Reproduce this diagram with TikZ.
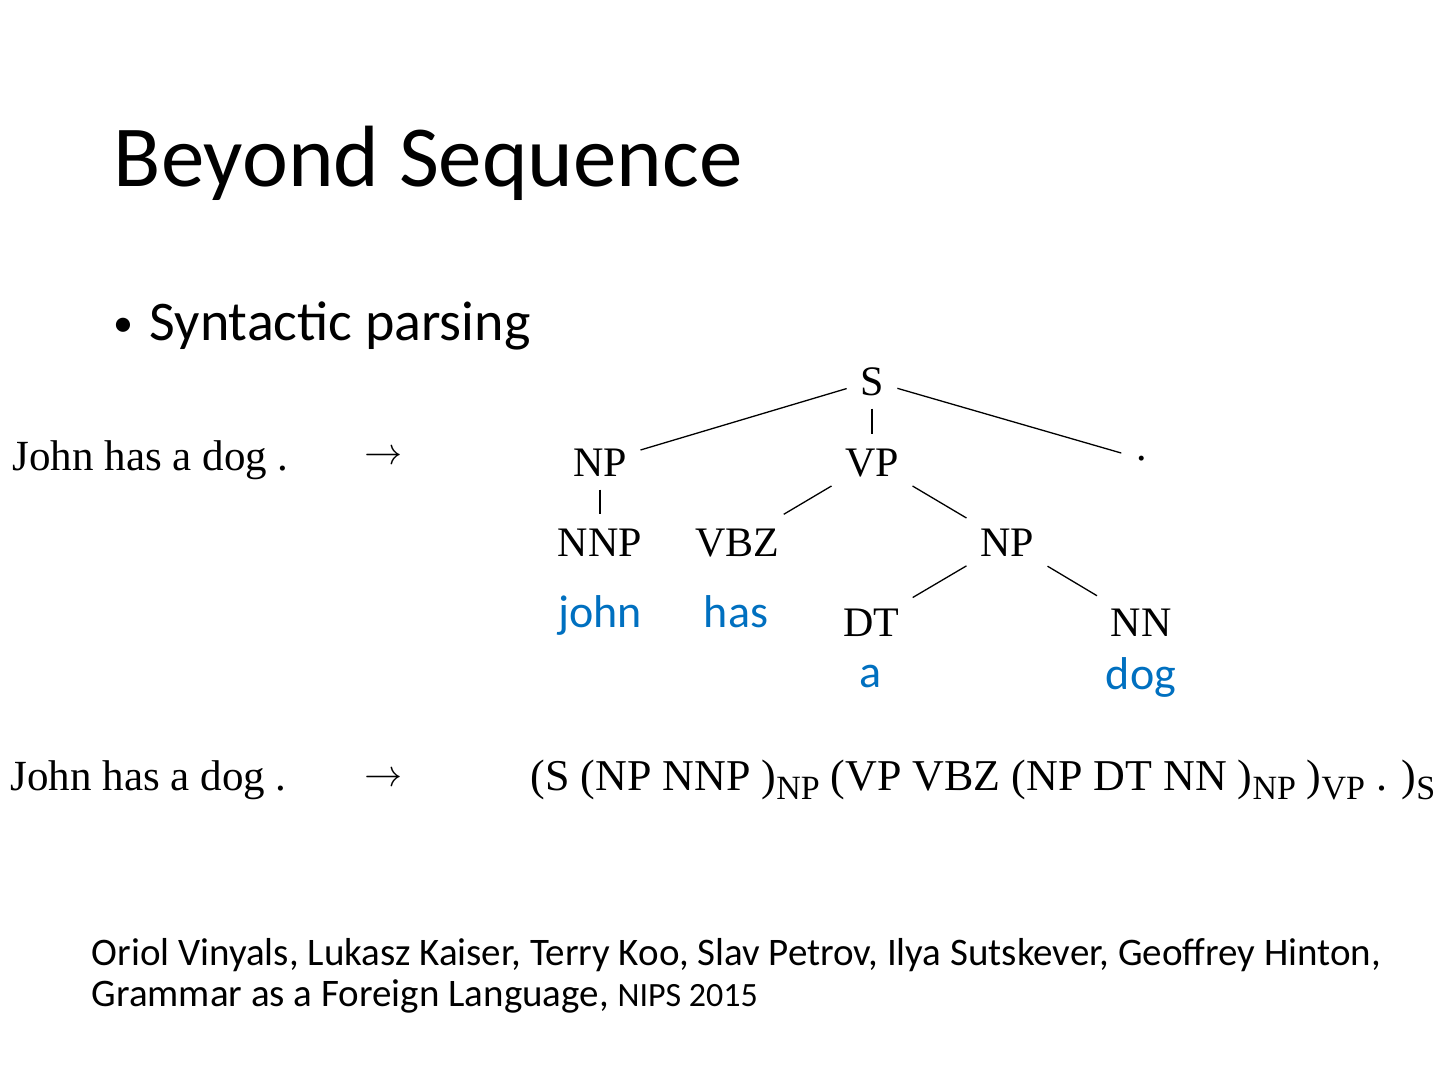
\documentclass[tikz,border=0pt]{standalone}
\usepackage{fontspec}
\setmainfont{Liberation Serif}
\newfontfamily\slidefont{Carlito}
\newfontfamily\arrowfont{latinmodern-math.otf}
\usetikzlibrary{positioning}
\definecolor{cword}{HTML}{0070C0}
\newcommand{\lowlab}[1]{\raisebox{-9pt}{\fontsize{34}{34}\selectfont #1}}
\tikzset{
  every picture/.style={x=1pt, y=-1pt, line width=1.4pt},
  slidetext/.style={font=\slidefont\fontsize{#1}{#1}\selectfont, inner sep=0pt, anchor=base west},
  slidetext/.default=36,
  cat/.style={font=\fontsize{42}{42}\selectfont, text height=28pt, text depth=0pt, inner sep=13pt},
  word/.style={font=\slidefont\fontsize{46}{46}\selectfont, text=cword, inner sep=0pt, anchor=base},
  branch/.style={draw=black, line width=1.3pt},
  serif/.style={font=\fontsize{#1}{#1}\selectfont, inner sep=0pt, anchor=base west},
  serif/.default=43,
  maps/.style={font=\arrowfont\fontsize{38}{38}\selectfont, inner sep=0pt},
}

\begin{document}
\begin{tikzpicture}
  \useasboundingbox[fill=white] (0,0) rectangle (1440,1080);
  \node[slidetext=87] (title) at (113,186) {Beyond Sequence};
  \node[slidetext=40] (bullet) at (113,336) {•};
  \node[slidetext=56] (item) at (149,340) {Syntactic parsing};

  \node[serif] (in1) at (12,470) {John has a dog .};
  \node[maps] (to1) at (383,455) {→};
  \node[cat] (s) at (872,381) {S};
  \node[cat] (np1) at (600,462) {NP};
  \node[cat] (vp) at (872,462) {VP};
  \node[font=\fontsize{42}{42}\selectfont, inner sep=0pt, minimum size=40pt] (dot) at (1142,459) {.};
  \node[cat] (nnp) at (600,542) {NNP};
  \node[cat] (vbz) at (737,542) {VBZ};
  \node[cat] (np2) at (1007,542) {NP};
  \node[cat] (dt) at (871,622) {DT};
  \node[cat] (nn) at (1141,622) {NN};
  \foreach \a/\b in {s/np1, s/vp, s/dot, np1/nnp, vp/vbz, vp/np2, np2/dt, np2/nn} \draw[branch] (\a) -- (\b);
  \node[word] (john) at (600,627) {john};
  \node[word] (has) at (736,627) {has};
  \node[word] (a) at (871,687) {a};
  \node[word] (dog) at (1141,689) {dog};

  \node[serif] (in2) at (10,790) {John has a dog .};
  \node[maps] (to2) at (383,777) {→};
  \node[serif=44] (seq) at (530,790) {(S (NP NNP )\lowlab{NP} (VP VBZ (NP DT NN )\lowlab{NP} )\lowlab{VP} . )\lowlab{S}};

  \node[slidetext=39] (cite1) at (91,965) {Oriol Vinyals, Lukasz Kaiser, Terry Koo, Slav Petrov, Ilya Sutskever, Geoffrey Hinton,};
  \node[slidetext=39] (cite2) at (91,1006) {Grammar as a Foreign Language, {\fontsize{34}{34}\selectfont NIPS 2015}};
\end{tikzpicture}
\end{document}
